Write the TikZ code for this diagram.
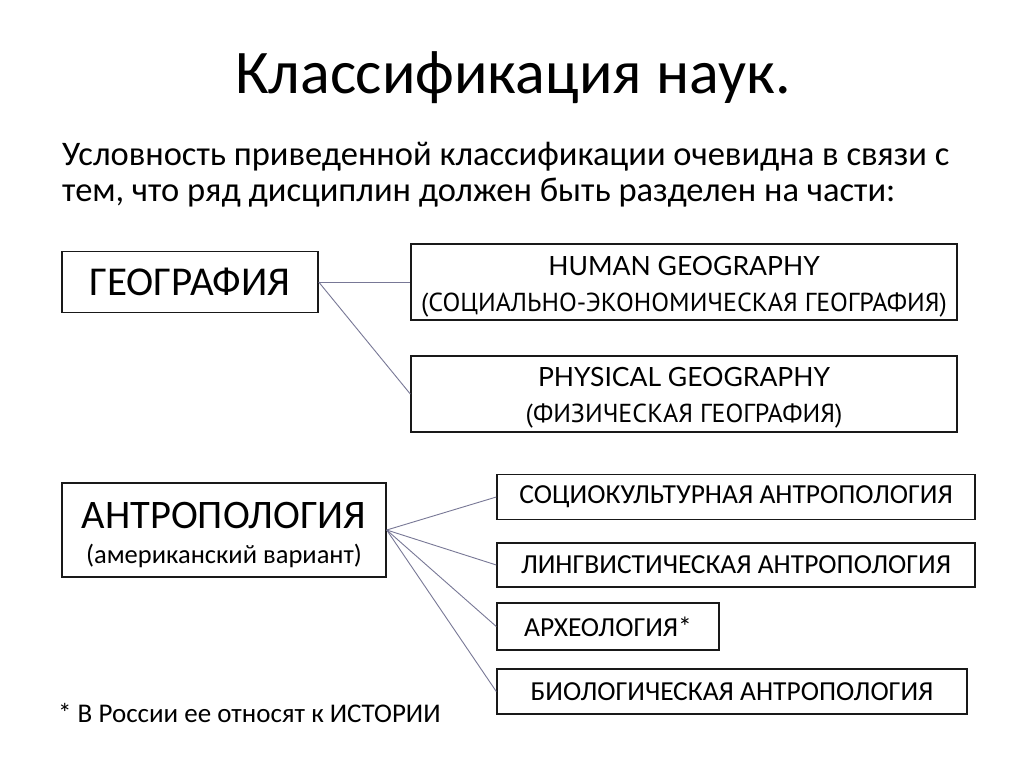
\documentclass[tikz,border=0pt]{standalone}
\usepackage{fontspec}
\setmainfont{Carlito}
\newfontfamily\gill{PT Sans}
\newfontfamily\gilllat{Lato}
\tikzset{
  box/.style={draw=black!90, line width=1.4pt, inner sep=0pt, align=center, fill=white},
  sub/.style={box, font=\fontsize{27.5}{30}\selectfont},
  geobox/.style={box, minimum width=546pt, font=\fontsize{26}{36}\selectfont},
  link/.style={draw={rgb,255:red,120;green,120;blue,150}, line width=0.9pt},
}
\begin{document}
\begin{tikzpicture}[x=1pt,y=-1pt]
\useasboundingbox (0,0) rectangle (1024,767);
\fill[white] (0,0) rectangle (1024,767);
% title
\node[anchor=base, font=\fontsize{62}{64}\selectfont] (title) at (513,94) {Классификация наук.};
% intro
\node[anchor=base west, inner sep=0pt, font=\fontsize{34.5}{36}\selectfont] (intro1) at (62,166) {Условность приведенной классификации очевидна в связи с};
\node[anchor=base west, inner sep=0pt, font=\fontsize{34.5}{36}\selectfont] (intro2) at (62,202) {тем, что ряд дисциплин должен быть разделен на части:};
% geography
\node[box, minimum width=256pt, minimum height=61pt, font=\fontsize{41}{42}\selectfont] (geo) at (190,282) {ГЕОГРАФИЯ};
\node[geobox, minimum height=76pt] (human) at (684,282) {\rule{0pt}{29pt}{\gilllat\fontsize{26.5}{36}\selectfont HUMAN GEOGRAPHY}\\{\gill\fontsize{26}{36}\selectfont (СОЦИАЛЬНО-ЭКОНОМИЧЕСКАЯ ГЕОГРАФИЯ)}};
\node[geobox, minimum height=76pt] (phys) at (684,394) {\rule{0pt}{27pt}{\gilllat\fontsize{26.5}{36}\selectfont PHYSICAL GEOGRAPHY}\\{\gill\fontsize{26}{36}\selectfont (ФИЗИЧЕСКАЯ ГЕОГРАФИЯ)}};
% anthropology
\node[box, minimum width=324pt, minimum height=94pt, font=\fontsize{40.5}{35}\selectfont] (anth) at (224,530) {\rule{0pt}{36pt}АНТРОПОЛОГИЯ\\\fontsize{26.5}{35}\selectfont (американский вариант)};
\node[sub, minimum width=478pt, minimum height=45pt] (soc) at (736,497) {СОЦИОКУЛЬТУРНАЯ АНТРОПОЛОГИЯ};
\node[sub, minimum width=478pt, minimum height=44pt] (ling) at (736,565) {ЛИНГВИСТИЧЕСКАЯ АНТРОПОЛОГИЯ};
\node[sub, minimum width=222pt, minimum height=47pt] (arch) at (608,626.5) {АРХЕОЛОГИЯ*};
\node[sub, minimum width=470pt, minimum height=45pt] (bio) at (732,691.5) {БИОЛОГИЧЕСКАЯ АНТРОПОЛОГИЯ};
% footnote
\node[anchor=base west, inner sep=0pt, font=\fontsize{27}{30}\selectfont] (note) at (58,722) {* В России ее относят к ИСТОРИИ};
% connectors
\draw[link] (geo.east) -- (human.west);
\draw[link] (geo.east) -- (phys.west);
\draw[link] (anth.east) -- (soc.west);
\draw[link] (anth.east) -- (ling.west);
\draw[link] (anth.east) -- (arch.west);
\draw[link] (anth.east) -- (bio.west);
\end{tikzpicture}
\end{document}
